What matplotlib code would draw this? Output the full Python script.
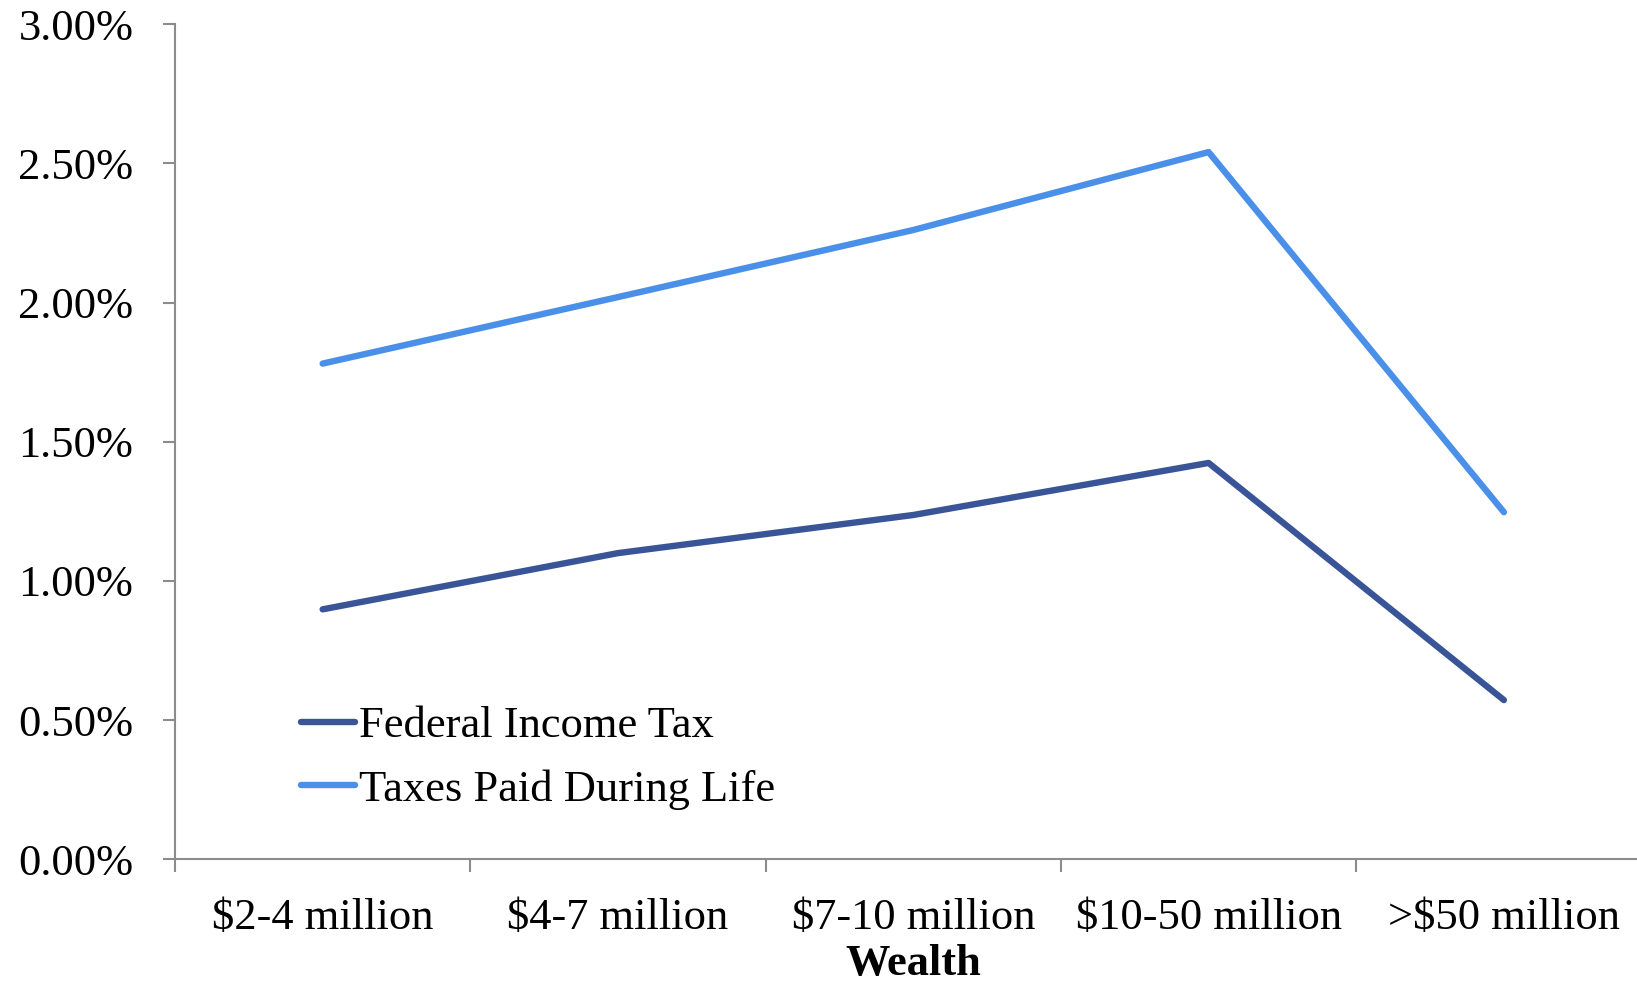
import numpy as np
import matplotlib
matplotlib.use("Agg")
import matplotlib.pyplot as plt
from matplotlib.ticker import FuncFormatter

# tax rates by wealth bracket, in percent
categories = ["$2-4 million", "$4-7 million", "$7-10 million", "$10-50 million", ">$50 million"]
federal_income_tax = [0.898, 1.100, 1.237, 1.424, 0.572]
taxes_paid_during_life = [1.781, 2.020, 2.261, 2.541, 1.247]
y_ticks = [0.0, 0.5, 1.0, 1.5, 2.0, 2.5, 3.0]

plt.rcParams["font.family"] = ["Liberation Serif", "DejaVu Serif"]
plt.rcParams["font.size"] = 32

axis_gray = "#8c8c8c"
dark_blue = "#3a5597"
light_blue = "#4a8fe8"

fig = plt.figure(figsize=(16.37, 9.81), dpi=100)
ax = fig.add_axes([0.1069, 0.1241, 0.9020, 0.8511])

x = np.arange(len(categories))
ax.plot(x, federal_income_tax, color=dark_blue, lw=4.6, solid_capstyle="round",
        solid_joinstyle="round", label="Federal Income Tax")
ax.plot(x, taxes_paid_during_life, color=light_blue, lw=4.6, solid_capstyle="round",
        solid_joinstyle="round", label="Taxes Paid During Life")

ax.set_xlim(-0.5, len(categories) - 0.5)
ax.set_ylim(0, 3.0)
ax.set_yticks(y_ticks)
ax.yaxis.set_major_formatter(FuncFormatter(lambda v, _: f"{v:.2f}%"))

# tick marks sit between categories, labels sit under them
ax.set_xticks(np.arange(-0.5, len(categories), 1.0))
ax.set_xticklabels([])
ax.set_xticks(x, minor=True)
ax.set_xticklabels(categories, minor=True)
ax.tick_params(axis="x", which="minor", length=0, pad=28)
ax.tick_params(axis="x", which="major", length=9, width=1.5, color=axis_gray, direction="out")
ax.tick_params(axis="y", length=9, width=1.5, color=axis_gray, direction="out", pad=21)

for side in ["top", "right"]:
    ax.spines[side].set_visible(False)
for side in ["left", "bottom"]:
    ax.spines[side].set_color(axis_gray)
    ax.spines[side].set_linewidth(1.5)

ax.set_xlabel("Wealth", fontweight="bold", labelpad=4)

leg = ax.legend(loc="upper left", bbox_to_anchor=(0.0736, 0.2045), frameon=False,
                handlelength=1.2, handletextpad=0.1, labelspacing=0.51,
                borderaxespad=0)

fig.savefig("out.png", dpi=100, facecolor="white")
